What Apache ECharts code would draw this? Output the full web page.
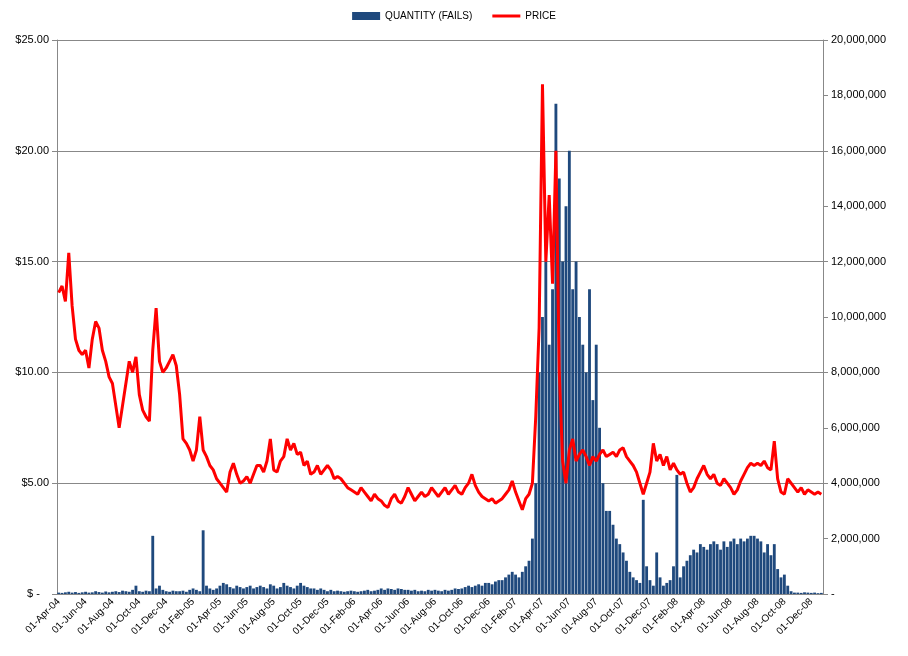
<!DOCTYPE html>
<html><head><meta charset="utf-8">
<script src="https://cdn.jsdelivr.net/npm/echarts@6/dist/echarts.min.js"></script>
<style>html,body{margin:0;padding:0;background:#fff}#c{width:908px;height:656px}</style>
</head><body><div id="c"></div>
<script>
// four samples per month (days 1, 8, 15, 22), Apr 2004 .. Dec 2008
const startYear = 2004, startMonth = 3, monthCount = 57;
const monthNames = ['Jan','Feb','Mar','Apr','May','Jun','Jul','Aug','Sep','Oct','Nov','Dec'];
const sampleDays = [1, 8, 15, 22];

const price = [
 13.6,13.9,13.2,15.4, 13.0,11.5,11.0,10.8, 11.0,10.2,11.5,12.3, 12.0,11.0,10.5,9.8,
 9.5,8.5,7.5,8.5, 9.5,10.5,10.0,10.7, 9.0,8.3,8.0,7.8, 11.0,12.9,10.5,10.0, 10.2,10.5,10.8,10.3,
 9.0,7.0,6.8,6.5, 6.0,6.5,8.0,6.5, 6.2,5.8,5.6,5.2, 5.0,4.8,4.6,5.5, 5.9,5.4,5.0,5.1,
 5.3,5.0,5.4,5.8, 5.8,5.5,6.0,7.0, 5.6,5.5,6.0,6.2, 7.0,6.5,6.8,6.3, 6.4,5.8,6.0,5.4,
 5.5,5.8,5.4,5.6, 5.8,5.6,5.2,5.3,
 5.2,5.0,4.8,4.7, 4.6,4.5,4.8,4.6, 4.4,4.2,4.5,4.3, 4.2,4.0,3.9,4.3, 4.5,4.2,4.1,4.4,
 4.8,4.5,4.2,4.4, 4.6,4.4,4.5,4.8, 4.6,4.4,4.6,4.8, 4.5,4.7,4.9,4.6, 4.5,4.8,5.0,5.4,
 4.9,4.6,4.4,4.3, 4.2,4.3,4.1,4.2,
 4.3,4.5,4.7,5.1, 4.6,4.2,3.8,4.3, 4.5,5.0,8.0,12.0, 23.0,15.0,18.0,14.0, 20.0,10.0,6.0,5.0,
 6.5,7.0,6.0,6.3, 6.5,6.2,5.8,6.2, 6.0,6.3,6.5,6.2, 6.3,6.4,6.2,6.5, 6.6,6.2,6.0,5.8,
 5.5,5.0,4.5,5.0, 5.5,6.8,6.0,6.3,
 5.8,6.2,5.6,5.9, 5.6,5.4,5.5,5.0, 4.6,4.8,5.2,5.5, 5.8,5.4,5.2,5.4, 5.0,4.9,5.2,5.0,
 4.8,4.5,4.7,5.1, 5.4,5.7,5.9,5.8, 5.9,5.8,6.0,5.7, 5.6,6.9,5.2,4.6, 4.5,5.2,5.0,4.8,
 4.6,4.8,4.5,4.7, 4.6,4.5,4.6,4.5
];

const quantity = [
 0.05,0.04,0.06,0.08, 0.05,0.07,0.04,0.06, 0.08,0.05,0.06,0.1, 0.07,0.05,0.09,0.06,
 0.08,0.1,0.07,0.12, 0.1,0.08,0.15,0.3, 0.1,0.08,0.12,0.1, 2.1,0.2,0.3,0.15, 0.1,0.08,0.12,0.1,
 0.1,0.12,0.08,0.15, 0.2,0.15,0.1,2.3, 0.3,0.2,0.15,0.2, 0.3,0.4,0.35,0.25, 0.2,0.3,0.25,0.2,
 0.25,0.3,0.2,0.25, 0.3,0.25,0.2,0.35, 0.3,0.2,0.25,0.4, 0.3,0.25,0.2,0.3, 0.4,0.3,0.25,0.2,
 0.2,0.15,0.2,0.15, 0.1,0.15,0.1,0.12,
 0.1,0.08,0.1,0.12, 0.1,0.08,0.1,0.12, 0.15,0.1,0.12,0.15, 0.2,0.15,0.2,0.18, 0.15,0.2,0.18,0.15,
 0.15,0.12,0.15,0.1, 0.12,0.1,0.15,0.12, 0.15,0.12,0.1,0.15, 0.12,0.15,0.2,0.18, 0.2,0.25,0.3,0.25,
 0.3,0.35,0.3,0.4, 0.4,0.35,0.45,0.5,
 0.5,0.6,0.7,0.8, 0.7,0.6,0.8,1.0, 1.2,2.0,4.0,8.0, 10.0,12.0,9.0,11.0, 17.7,15.0,12.0,14.0,
 16.0,11.0,12.0,10.0, 9.0,8.0,11.0,7.0, 9.0,6.0,4.0,3.0, 3.0,2.5,2.0,1.8, 1.5,1.2,0.8,0.6,
 0.5,0.4,3.4,1.0, 0.5,0.3,1.5,0.6,
 0.3,0.4,0.5,1.0, 4.3,0.6,1.0,1.2, 1.4,1.6,1.5,1.8, 1.7,1.6,1.8,1.9, 1.8,1.6,1.9,1.7,
 1.9,2.0,1.8,2.0, 1.9,2.0,2.1,2.1, 2.0,1.9,1.5,1.8, 1.4,1.8,0.9,0.6, 0.7,0.3,0.1,0.05,
 0.05,0.04,0.06,0.05, 0.04,0.05,0.03,0.04
];

const categories = [];
for (let m = 0; m < monthCount; m++) {
  const mm = (startMonth + m) % 12, yy = startYear + Math.floor((startMonth + m) / 12);
  sampleDays.forEach(d => categories.push({d, mm, yy}));
}
const catLabels = categories.map(c => String(c.d).padStart(2,'0') + '-' + monthNames[c.mm] + '-' + String(c.yy).slice(2));

const chart = echarts.init(document.getElementById('c'));
chart.setOption({
  animation: false,
  textStyle: {fontFamily: 'Liberation Sans'},
  legend: {
    top: 6, left: 'center', itemGap: 20, itemWidth: 28, itemHeight: 8,
    textStyle: {fontSize: 10, color: '#000'},
    data: [{name: 'QUANTITY (FAILS)', icon: 'rect'},
           {name: 'PRICE', icon: 'path://M0,0 L28,0 L28,3 L0,3 Z', itemStyle: {color: '#FF0000'}}]
  },
  grid: {left: 57, right: 85, top: 40, bottom: 62},
  xAxis: {
    type: 'category', data: catLabels, boundaryGap: true,
    axisLine: {lineStyle: {color: '#888'}},
    axisTick: {show: false},
    axisLabel: {
      rotate: 45, fontSize: 10, color: '#000', margin: 6,
      interval: (i) => { const c = categories[i]; return c.d === 1 && (c.mm % 2 === 1); }
    }
  },
  yAxis: [{
    type: 'value', min: 0, max: 25, interval: 5,
    axisLine: {show: true, lineStyle: {color: '#888'}},
    axisTick: {show: true, lineStyle: {color: '#888'}},
    splitLine: {lineStyle: {color: '#888'}},
    axisLabel: {fontSize: 11, color: '#000', formatter: v => v === 0 ? '$ -   ' : '$' + v.toFixed(2)}
  }, {
    type: 'value', min: 0, max: 20000000, interval: 2000000,
    axisLine: {show: true, lineStyle: {color: '#888'}},
    axisTick: {show: true, lineStyle: {color: '#888'}},
    splitLine: {show: false},
    axisLabel: {fontSize: 11, color: '#000', formatter: v => v === 0 ? '-' : v.toLocaleString('en-US')}
  }],
  series: [{
    name: 'QUANTITY (FAILS)', type: 'bar', yAxisIndex: 1,
    data: quantity.map(v => Math.round(v * 1000000)),
    itemStyle: {color: '#1F497D'}, barCategoryGap: '15%'
  }, {
    name: 'PRICE', type: 'line', yAxisIndex: 0, data: price,
    showSymbol: false, symbol: 'none',
    lineStyle: {color: '#FF0000', width: 3}, itemStyle: {color: '#FF0000'}
  }]
});
</script></body></html>
